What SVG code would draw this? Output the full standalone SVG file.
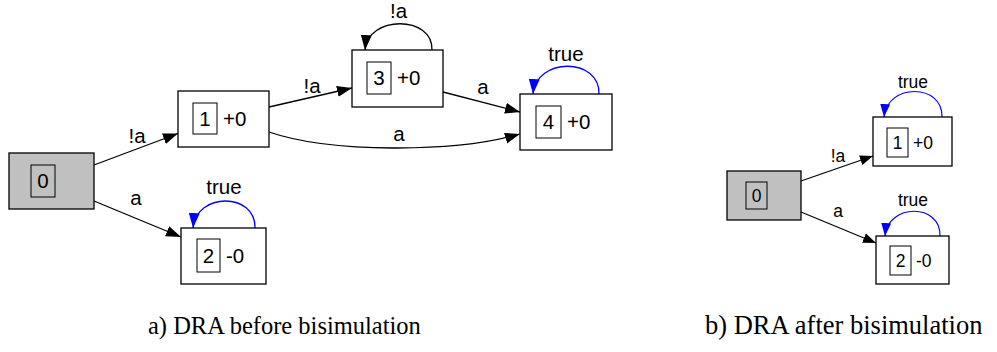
<svg xmlns="http://www.w3.org/2000/svg" width="997" height="352" viewBox="0 0 997 352">
  <style>
    .node { fill: #ffffff; stroke: #000000; stroke-width: 1.3; }
    .init { fill: #c0c0c0; stroke: #000000; stroke-width: 1.3; }
    .idbox { fill: none; stroke: #000000; stroke-width: 1; }
    .lbl { font-family: "Liberation Sans", Arial, sans-serif; font-size: 20.5px; fill: #000000; }
    .lbl-s { font-family: "Liberation Sans", Arial, sans-serif; font-size: 17.5px; fill: #000000; }
    .mid { text-anchor: middle; }
    .edge { fill: none; stroke: #000000; stroke-width: 1.3; marker-end: url(#arrow); }
    .loop { fill: none; stroke: #0000ff; stroke-width: 1.3; marker-end: url(#arrow-blue); }
    .edge-s { fill: none; stroke: #000000; stroke-width: 1.2; marker-end: url(#arrow-s); }
    .loop-s { fill: none; stroke: #0000ff; stroke-width: 1.2; marker-end: url(#arrow-blue-s); }
    .caption { font-family: "Liberation Serif", "Times New Roman", serif; font-size: 24.5px; fill: #000000; }
  </style>
  <defs>
    <marker id="arrow" markerUnits="userSpaceOnUse" markerWidth="16" markerHeight="12" refX="15" refY="5.5" orient="auto">
      <path d="M0,0 L15,5.5 L0,11 z" fill="#000000"/>
    </marker>
    <marker id="arrow-blue" markerUnits="userSpaceOnUse" markerWidth="16" markerHeight="12" refX="15" refY="5.5" orient="auto">
      <path d="M0,0 L15,5.5 L0,11 z" fill="#0000ff"/>
    </marker>
    <marker id="arrow-s" markerUnits="userSpaceOnUse" markerWidth="14" markerHeight="11" refX="13" refY="5" orient="auto">
      <path d="M0,0 L13,5 L0,10 z" fill="#000000"/>
    </marker>
    <marker id="arrow-blue-s" markerUnits="userSpaceOnUse" markerWidth="14" markerHeight="11" refX="13" refY="5" orient="auto">
      <path d="M0,0 L13,5 L0,10 z" fill="#0000ff"/>
    </marker>
  </defs>

  <!-- a) automaton before bisimulation -->
  <g id="a-edges">
    <path class="edge" d="M94,165 L178,133.5"/>
    <path class="edge" d="M94,201 L181,237"/>
    <path class="loop" d="M255,228 C256,192 196,192 193,228"/>
    <path class="edge" d="M269,107 L352,88"/>
    <path class="edge" d="M432,50 C433,15 368,15 365,50"/>
    <path class="edge" d="M443,92 L520,112"/>
    <path class="edge" d="M269,132 C330,153 455,153 520,134"/>
    <path class="loop" d="M599,94 C600,57 536,57 533,94"/>
    <text class="lbl mid" x="137" y="143">!a</text>
    <text class="lbl mid" x="136" y="205">a</text>
    <text class="lbl mid" x="224" y="194">true</text>
    <text class="lbl mid" x="312" y="93">!a</text>
    <text class="lbl mid" x="398.5" y="18">!a</text>
    <text class="lbl mid" x="483" y="94">a</text>
    <text class="lbl mid" x="399" y="141">a</text>
    <text class="lbl mid" x="566" y="61">true</text>
  </g>

  <g id="a-q0">
    <rect class="init" x="9" y="153" width="85" height="56"/>
    <rect class="idbox" x="31" y="165" width="24" height="32"/>
    <text class="lbl mid" x="43" y="188">0</text>
  </g>
  <g id="a-q1">
    <rect class="node" x="178" y="91" width="91" height="56"/>
    <rect class="idbox" x="193" y="103" width="24" height="31"/>
    <text class="lbl mid" x="205" y="126">1</text>
    <text class="lbl" x="223" y="126">+0</text>
  </g>
  <g id="a-q2">
    <rect class="node" x="181" y="228" width="85" height="56"/>
    <rect class="idbox" x="197" y="239" width="23" height="33"/>
    <text class="lbl mid" x="208.5" y="263">2</text>
    <text class="lbl" x="226" y="263">-0</text>
  </g>
  <g id="a-q3">
    <rect class="node" x="352" y="50" width="91" height="57"/>
    <rect class="idbox" x="367" y="62" width="24" height="32"/>
    <text class="lbl mid" x="379" y="85">3</text>
    <text class="lbl" x="397" y="85">+0</text>
  </g>
  <g id="a-q4">
    <rect class="node" x="520" y="94" width="92" height="56"/>
    <rect class="idbox" x="536" y="106" width="25" height="32"/>
    <text class="lbl mid" x="548.5" y="129">4</text>
    <text class="lbl" x="567" y="129">+0</text>
  </g>

  <!-- b) automaton after bisimulation -->
  <g id="b-edges">
    <path class="edge-s" d="M801,181 L873,156"/>
    <path class="edge-s" d="M801,212 L876,243"/>
    <path class="loop-s" d="M942,117 C943,83 887,83 884,117"/>
    <path class="loop-s" d="M940,236 C941,203 888,203 885,236"/>
    <text class="lbl-s mid" x="838" y="162">!a</text>
    <text class="lbl-s mid" x="838" y="217">a</text>
    <text class="lbl-s mid" x="913" y="88">true</text>
    <text class="lbl-s mid" x="913" y="206">true</text>
  </g>

  <g id="b-q0">
    <rect class="init" x="727" y="171" width="74" height="49"/>
    <rect class="idbox" x="746" y="182" width="21" height="27"/>
    <text class="lbl-s mid" x="756.5" y="202">0</text>
  </g>
  <g id="b-q1">
    <rect class="node" x="873" y="117" width="79" height="49"/>
    <rect class="idbox" x="887" y="128" width="21" height="29"/>
    <text class="lbl-s mid" x="897.5" y="149">1</text>
    <text class="lbl-s" x="913" y="149">+0</text>
  </g>
  <g id="b-q2">
    <rect class="node" x="876" y="236" width="73" height="48"/>
    <rect class="idbox" x="890" y="246" width="21" height="29"/>
    <text class="lbl-s mid" x="900.5" y="267">2</text>
    <text class="lbl-s" x="916" y="267">-0</text>
  </g>

  <!-- captions -->
  <text class="caption" x="148" y="334">a) DRA before bisimulation</text>
  <text class="caption" x="705" y="334" style="font-size:26.5px">b) DRA after bisimulation</text>
</svg>
